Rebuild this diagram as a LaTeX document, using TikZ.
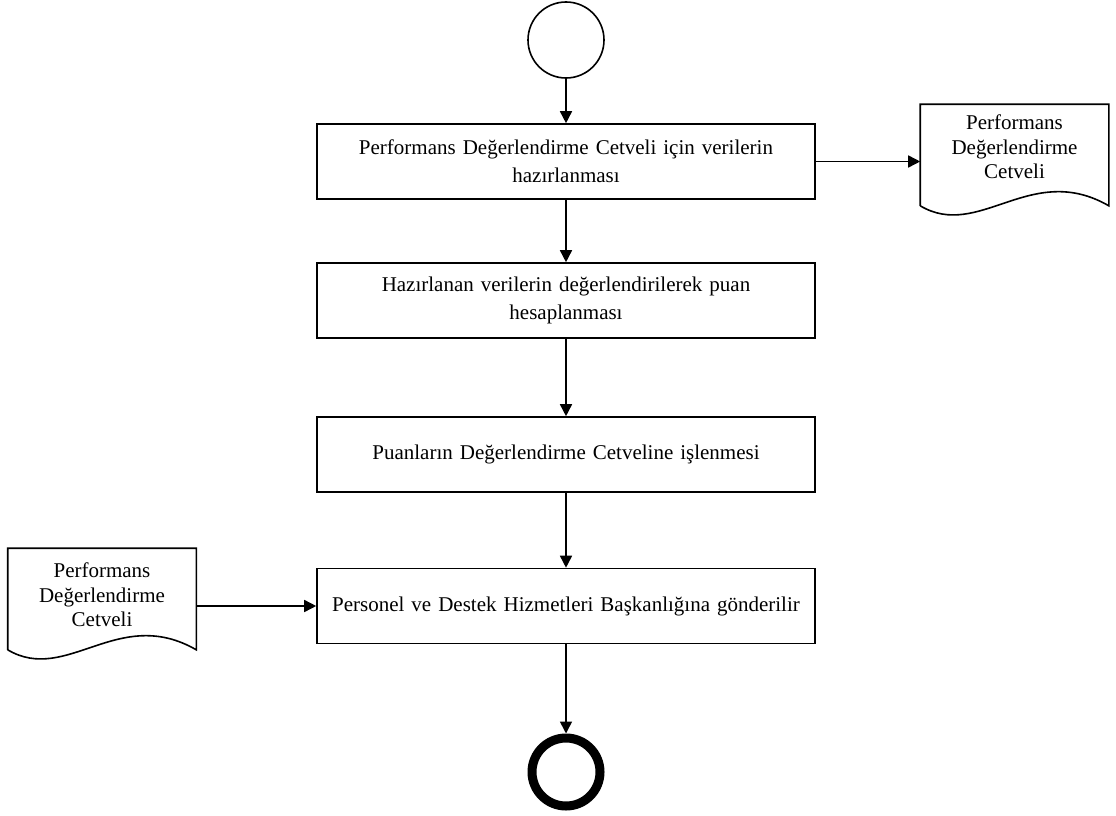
\documentclass[tikz,border=0pt]{standalone}
\usepackage{fontspec}
\setmainfont{Liberation Serif}
\usetikzlibrary{arrows.meta,calc}
\begin{document}
\begin{tikzpicture}[x=1pt,y=-1pt,
  line width=1.6pt,
  flow/.style={-{Triangle[length=12pt,width=12pt]}},
  stepbox/.style={draw,rectangle,minimum width=498pt,minimum height=75pt,
    text width=490pt,align=center,inner sep=0pt,font=\fontsize{21}{28}\selectfont},
  docarea/.style={rectangle,minimum width=187pt,minimum height=100pt,inner sep=0pt},
  doctext/.style={align=center,font=\fontsize{21}{24.5}\selectfont},
  startnode/.style={draw,circle,minimum size=76pt,inner sep=0pt},
  endnode/.style={draw,circle,line width=9pt,minimum size=68pt,inner sep=0pt}]
\useasboundingbox (0,0) rectangle (1116,816);

% start and end events
\node[startnode] (start) at (566,40) {};
\node[endnode] (stop) at (566,772) {};

% process steps
\node[stepbox] (s1) at (566,161.5) {Performans Değerlendirme Cetveli için verilerin\\hazırlanması};
\node[stepbox] (s2) at (566,300.5) {Hazırlanan verilerin değerlendirilerek puan\\hesaplanması};
\node[stepbox] (s3) at (566,454.5) {Puanların Değerlendirme Cetveline işlenmesi};
\node[stepbox] (s4) at (566,606) {Personel ve Destek Hizmetleri Başkanlığına gönderilir};

% document symbols
\node[docarea] (d1) at (1014.5,155) {};
\draw (d1.south west) -- (d1.north west) -- (d1.north east) -- (d1.south east)
  .. controls ($(d1.south east)+(-78,-45)$) and ($(d1.south west)+(59,35)$) .. (d1.south west);
\node[doctext] (d1t) at (1014.5,147) {Performans\\Değerlendirme\\Cetveli};

\node[docarea] (d2) at (102,599) {};
\draw (d2.south west) -- (d2.north west) -- (d2.north east) -- (d2.south east)
  .. controls ($(d2.south east)+(-78,-45)$) and ($(d2.south west)+(59,35)$) .. (d2.south west);
\node[doctext] (d2t) at (102,595) {Performans\\Değerlendirme\\Cetveli};

% connectors
\draw[flow] (start) -- (s1);
\draw[flow] (s1) -- (s2);
\draw[flow] (s2) -- (s3);
\draw[flow] (s3) -- (s4);
\draw[flow] (s4) -- (stop.north);
\draw[flow] (s1.east) -- (s1.east -| d1.west);
\draw[flow] (d2.east |- s4.west) -- (s4.west);
\end{tikzpicture}
\end{document}
